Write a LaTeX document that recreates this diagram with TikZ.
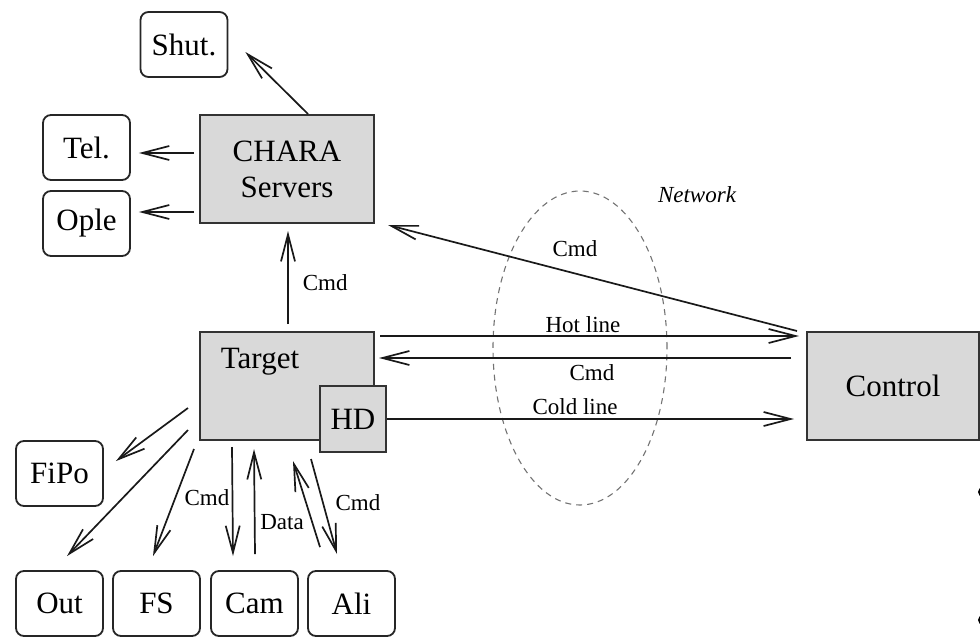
\documentclass[tikz,border=0pt]{standalone}
\usepackage{fontspec}
\setmainfont{Liberation Serif}
\usetikzlibrary{arrows.meta,calc,shapes.geometric}

\begin{document}
\begin{tikzpicture}[x=1pt,y=-1pt,
  boxfont/.style={font=\fontsize{31}{38}\selectfont},
  lblfont/.style={font=\fontsize{23}{26}\selectfont},
  device/.style={draw=black!85, line width=1.8pt, fill=white, rounded corners=8pt,
    minimum width=87pt, minimum height=65pt, inner sep=0pt, boxfont},
  unit/.style={draw=black!80, line width=2pt, fill=black!15, inner sep=0pt, boxfont, align=center},
  link/.style={line width=1.7pt, draw=black!90, -{Straight Barb[length=27pt,width=14pt]}},
  lbl/.style={lblfont, inner sep=0pt},
  netring/.style={ellipse, draw=black!55, dashed, dash pattern=on 6pt off 5pt, line width=1.1pt,
    minimum width=174pt, minimum height=314pt, inner sep=0pt}
]
\useasboundingbox (0,0) rectangle (980,643);

% network cloud
\node[netring] (net) at (580,348) {};
\node[lbl, font=\fontsize{23}{26}\selectfont\itshape] (netname) at (697,195) {Network};

% main units
\node[unit, minimum width=174pt, minimum height=108pt] (chara) at (287,169) {CHARA\\[-2pt]Servers};
\node[unit, minimum width=174pt, minimum height=108pt] (target) at (287,386) {};
\node[boxfont, inner sep=0pt] (targetname) at (260,362) {Target};
\node[unit, minimum width=66pt, minimum height=66pt] (hd) at (353,419) {HD};
\node[unit, minimum width=172pt, minimum height=108pt] (control) at (893,386) {Control};

% devices
\node[device] (shut) at (184,44.5) {Shut.};
\node[device] (tel) at (86.5,147.5) {Tel.};
\node[device] (ople) at (86.5,223.5) {Ople};
\node[device] (fipo) at (59.5,473.5) {FiPo};
\node[device] (out) at (59.5,603.5) {Out};
\node[device] (fs) at (156.5,603.5) {FS};
\node[device] (cam) at (254.5,603.5) {Cam};
\node[device] (ali) at (351.5,603.5) {Ali};

% CHARA servers to their devices
\draw[link] ($(chara.north)+(21,0)$) -- ($(shut.east)+(17,7.5)$);
\draw[link] ($(chara.west)+(-5,-16)$) -- ($(tel.east)+(8,5.5)$);
\draw[link] ($(chara.west)+(-5,43)$) -- ($(ople.east)+(8,-11.5)$);

% target to CHARA
\draw[link] ($(target.north)+(1,-7)$) -- node[lbl, right=14pt, pos=0.45] (cmdup) {Cmd} ($(chara.south)+(1,7)$);

% network links with control
\draw[link] ($(control.north west)+(-9,0)$) -- ($(chara.south east)+(13,1)$);
\node[lbl] (cmdnet) at (575,249) {Cmd};
\draw[link] ($(target.north east)+(5,5)$) -- ($(control.north west)+(-7,5)$);
\node[lbl] (hotline) at (583,325) {Hot line};
\draw[link] ($(control.north west)+(-15,27)$) -- ($(target.north east)+(4,27)$);
\node[lbl] (cmdback) at (592,373) {Cmd};
\draw[link] (hd.east) -- ($(control.west)+(-12,33)$);
\node[lbl] (coldline) at (575,407) {Cold line};

% target to instruments
\draw[link] ($(target.west)+(-11,22)$) -- ($(fipo.north east)+(12,21)$);
\draw[link] ($(target.west)+(-11,44)$) -- ($(out.north)+(7.5,-14)$);
\draw[link] ($(target.south west)+(-5,8)$) -- ($(fs.north)+(-3.5,-14)$);
\node[lbl] (cmdfs) at (207,498) {Cmd};
\draw[link] ($(target.south west)+(33,6)$) -- ($(cam.north)+(-21.5,-14)$);
\draw[link] ($(cam.north)+(0.5,-16)$) -- ($(target.south west)+(55,8)$);
\node[lbl] (datacam) at (282,522) {Data};
\draw[link] ($(ali.north)+(-31.5,-23)$) -- ($(target.south)+(6,20)$);
\draw[link] ($(target.south)+(24,18)$) -- ($(ali.north)+(-14.5,-16)$);
\node[lbl] (cmdali) at (358,503) {Cmd};

% bullets of neighbouring text at the right edge
\fill (983,492) circle (5);
\fill (983,620) circle (5);
\end{tikzpicture}
\end{document}
